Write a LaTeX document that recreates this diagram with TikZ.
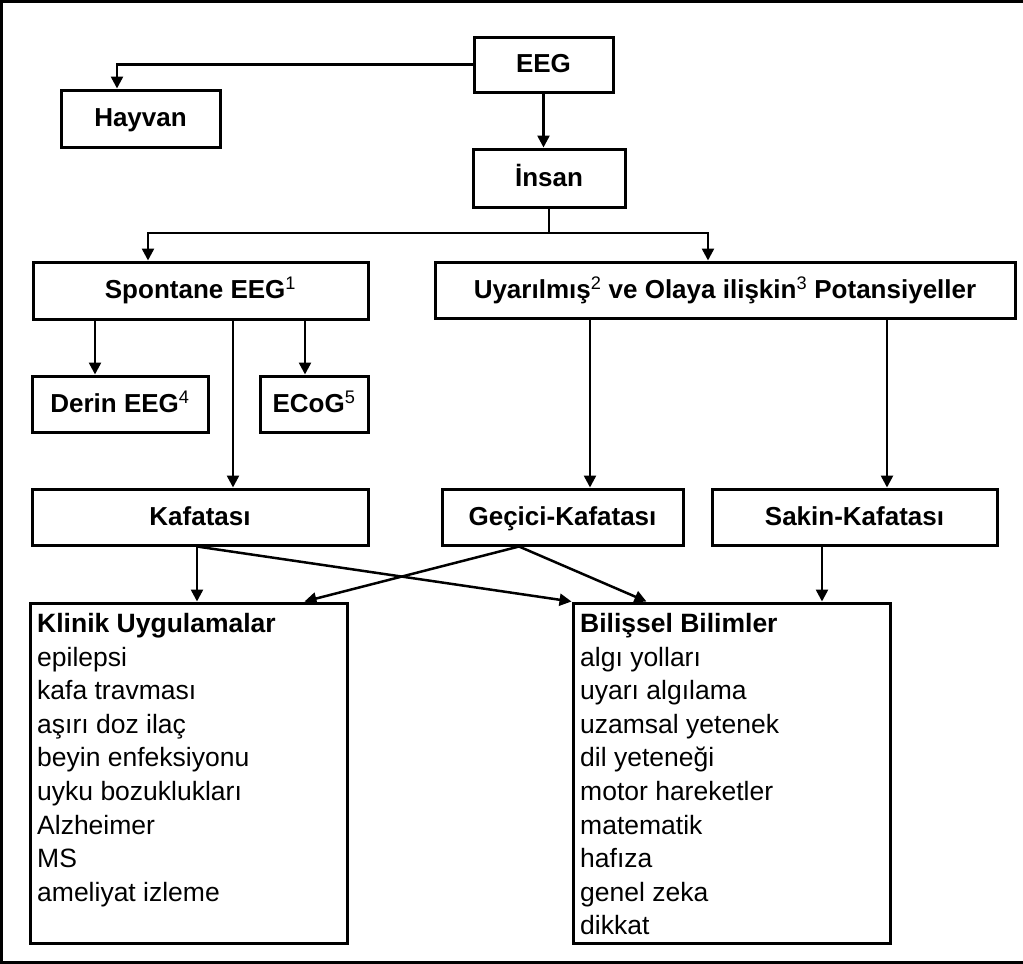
\documentclass[tikz,border=0pt]{standalone}
\usepackage{fontspec}
\setmainfont{Liberation Sans}
\usetikzlibrary{arrows.meta}
\newcommand{\mysup}[1]{\textsuperscript{\mdseries #1}}
\begin{document}
\begin{tikzpicture}[x=1pt,y=-1pt,
  box/.style={draw, line width=3pt, inner sep=0pt, align=center,
    text height=19pt, text depth=2.5pt,
    font=\fontsize{26}{31}\selectfont\bfseries},
  listbox/.style={draw, line width=3pt, inner sep=0pt},
  listtext/.style={inner sep=0pt, anchor=north west, align=left,
    font=\fontsize{26.5}{33.6}\selectfont},
  conn/.style={line width=2.5pt},
  arr/.style={conn, -{Triangle[width=12pt,length=12pt]}},
  frameline/.style={line width=3pt}
]
\fill[white] (0,0) rectangle (1023,964);
\useasboundingbox (0,0) rectangle (1023,964);
\draw[frameline] (1023,1.5) -- (1.5,1.5) -- (1.5,962.5) -- (1023,962.5);

% boxes
\node[box, minimum width=139pt, minimum height=55pt] (eeg) at (543.5,64.5) {EEG};
\node[box, minimum width=159pt, minimum height=57pt] (hayvan) at (140.5,118.5) {Hayvan};
\node[box, minimum width=152pt, minimum height=58pt] (insan) at (549,178) {İnsan};
\node[box, minimum width=335pt, minimum height=57pt] (spont) at (200.5,290.5) {Spontane EEG\mysup{1}};
\node[box, minimum width=580pt, minimum height=56pt] (uyar) at (725,290) {Uyarılmış\mysup{2} ve Olaya ilişkin\mysup{3} Potansiyeller};
\node[box, minimum width=176pt, minimum height=56pt] (derin) at (120,404) {Derin EEG\mysup{4}};
\node[box, minimum width=108pt, minimum height=56pt] (ecog) at (314,404) {ECoG\mysup{5}};
\node[box, minimum width=336pt, minimum height=56pt] (kafa) at (200,517) {Kafatası};
\node[box, minimum width=241pt, minimum height=56pt] (gecici) at (562.5,517) {Geçici-Kafatası};
\node[box, minimum width=285pt, minimum height=56pt] (sakin) at (854.5,517) {Sakin-Kafatası};
\node[listbox, minimum width=317pt, minimum height=340pt] (klinik) at (188.5,773) {};
\node[listbox, minimum width=317pt, minimum height=340pt] (bilis) at (731.5,773) {};

\node[listtext] (klinikt) at (37,613) {\textbf{Klinik Uygulamalar}\\epilepsi\\kafa travması\\aşırı doz ilaç\\beyin enfeksiyonu\\uyku bozuklukları\\Alzheimer\\MS\\ameliyat izleme};
\node[listtext] (bilist) at (580,613) {\textbf{Bilişsel Bilimler}\\algı yolları\\uyarı algılama\\uzamsal yetenek\\dil yeteneği\\motor hareketler\\matematik\\hafıza\\genel zeka\\dikkat};

% connectors
\coordinate (ht) at ([xshift=-23.5pt]hayvan.north);
\draw[arr] (eeg.west) -| (ht);
\draw[arr] (eeg.south) -- (insan.north -| eeg.south);
\coordinate (bus) at (549,233);
\coordinate (st) at ([xshift=-52.5pt]spont.north);
\coordinate (ut) at ([xshift=-17pt]uyar.north);
\draw[conn] (insan.south) -- (bus);
\draw[arr] (bus) -| (st);
\draw[arr] (bus) -| (ut);

\coordinate (dt) at ([xshift=-25pt]derin.north);
\coordinate (et) at ([xshift=-9pt]ecog.north);
\coordinate (kft) at ([xshift=33pt]kafa.north);
\draw[arr] (dt |- spont.south) -- (dt);
\draw[arr] (et |- spont.south) -- (et);
\draw[arr] (kft |- spont.south) -- (kft);

\coordinate (gt) at ([xshift=27.5pt]gecici.north);
\coordinate (skt) at ([xshift=32.5pt]sakin.north);
\draw[arr] (gt |- uyar.south) -- (gt);
\draw[arr] (skt |- uyar.south) -- (skt);

\coordinate (kt) at ([xshift=8.5pt]klinik.north);
\draw[arr] (kt |- kafa.south) -- (kt);
\draw[arr] (kt |- kafa.south) -- (bilis.north west);
\coordinate (gs) at ([xshift=-43.5pt]gecici.south);
\draw[arr] (gs) -- ([xshift=-44pt]klinik.north east);
\draw[arr] (gs) -- ([xshift=75pt]bilis.north west);
\coordinate (bt) at ([xshift=90.5pt]bilis.north);
\draw[arr] (bt |- sakin.south) -- (bt);
\end{tikzpicture}
\end{document}
